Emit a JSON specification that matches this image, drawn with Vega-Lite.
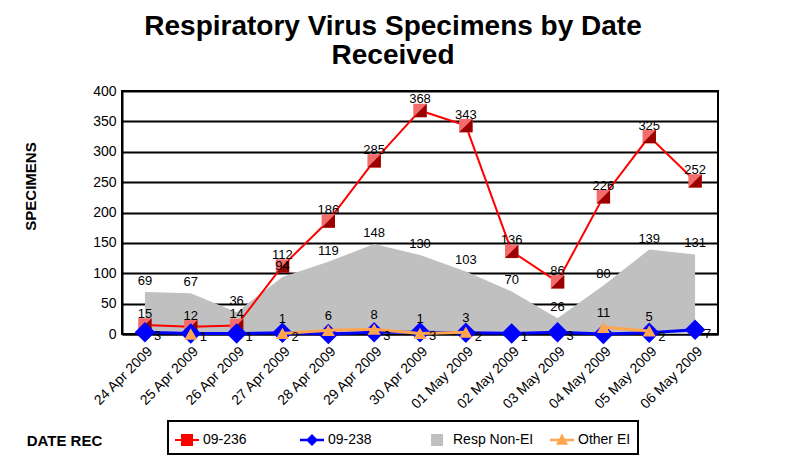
{
  "$schema": "https://vega.github.io/schema/vega-lite/v6.json",
  "width": 596,
  "height": 243,
  "autosize": "none",
  "padding": {"left": 122, "top": 91, "right": 73, "bottom": 136},
  "background": "white",
  "config": {
    "font": "Liberation Sans",
    "view": {"stroke": "#000", "strokeWidth": 2},
    "legend": {"strokeWidth": 2}
  },
  "title": {
    "text": ["Respiratory Virus Specimens by Date", "Received"],
    "font": "Liberation Sans",
    "fontSize": 28,
    "fontWeight": "bold",
    "color": "#000",
    "anchor": "middle",
    "dx": -27,
    "offset": 14,
    "lineHeight": 29
  },
  "data": {
    "values": [
      {"date": "24 Apr 2009", "series": "09-236", "value": 15},
      {"date": "25 Apr 2009", "series": "09-236", "value": 12},
      {"date": "26 Apr 2009", "series": "09-236", "value": 14},
      {"date": "27 Apr 2009", "series": "09-236", "value": 112},
      {"date": "28 Apr 2009", "series": "09-236", "value": 186},
      {"date": "29 Apr 2009", "series": "09-236", "value": 285},
      {"date": "30 Apr 2009", "series": "09-236", "value": 368},
      {"date": "01 May 2009", "series": "09-236", "value": 343},
      {"date": "02 May 2009", "series": "09-236", "value": 136},
      {"date": "03 May 2009", "series": "09-236", "value": 86},
      {"date": "04 May 2009", "series": "09-236", "value": 226},
      {"date": "05 May 2009", "series": "09-236", "value": 325},
      {"date": "06 May 2009", "series": "09-236", "value": 252},
      {"date": "24 Apr 2009", "series": "09-238", "value": 3},
      {"date": "25 Apr 2009", "series": "09-238", "value": 1},
      {"date": "26 Apr 2009", "series": "09-238", "value": 1},
      {"date": "27 Apr 2009", "series": "09-238", "value": 2},
      {"date": "28 Apr 2009", "series": "09-238", "value": 0},
      {"date": "29 Apr 2009", "series": "09-238", "value": 3},
      {"date": "30 Apr 2009", "series": "09-238", "value": 3},
      {"date": "01 May 2009", "series": "09-238", "value": 2},
      {"date": "02 May 2009", "series": "09-238", "value": 1},
      {"date": "03 May 2009", "series": "09-238", "value": 3},
      {"date": "04 May 2009", "series": "09-238", "value": 0},
      {"date": "05 May 2009", "series": "09-238", "value": 2},
      {"date": "06 May 2009", "series": "09-238", "value": 7},
      {"date": "24 Apr 2009", "series": "Resp Non-EI", "value": 69},
      {"date": "25 Apr 2009", "series": "Resp Non-EI", "value": 67},
      {"date": "26 Apr 2009", "series": "Resp Non-EI", "value": 36},
      {"date": "27 Apr 2009", "series": "Resp Non-EI", "value": 94},
      {"date": "28 Apr 2009", "series": "Resp Non-EI", "value": 119},
      {"date": "29 Apr 2009", "series": "Resp Non-EI", "value": 148},
      {"date": "30 Apr 2009", "series": "Resp Non-EI", "value": 130},
      {"date": "01 May 2009", "series": "Resp Non-EI", "value": 103},
      {"date": "02 May 2009", "series": "Resp Non-EI", "value": 70},
      {"date": "03 May 2009", "series": "Resp Non-EI", "value": 26},
      {"date": "04 May 2009", "series": "Resp Non-EI", "value": 80},
      {"date": "05 May 2009", "series": "Resp Non-EI", "value": 139},
      {"date": "06 May 2009", "series": "Resp Non-EI", "value": 131},
      {"date": "24 Apr 2009", "series": "Other EI", "value": null},
      {"date": "25 Apr 2009", "series": "Other EI", "value": 0},
      {"date": "26 Apr 2009", "series": "Other EI", "value": null},
      {"date": "27 Apr 2009", "series": "Other EI", "value": 1},
      {"date": "28 Apr 2009", "series": "Other EI", "value": 6},
      {"date": "29 Apr 2009", "series": "Other EI", "value": 8},
      {"date": "30 Apr 2009", "series": "Other EI", "value": 1},
      {"date": "01 May 2009", "series": "Other EI", "value": 3},
      {"date": "02 May 2009", "series": "Other EI", "value": null},
      {"date": "03 May 2009", "series": "Other EI", "value": null},
      {"date": "04 May 2009", "series": "Other EI", "value": 11},
      {"date": "05 May 2009", "series": "Other EI", "value": 5},
      {"date": "06 May 2009", "series": "Other EI", "value": null}
    ]
  },
  "encoding": {
    "x": {
      "field": "date",
      "type": "ordinal",
      "sort": null,
      "scale": {"type": "point", "padding": 0.5},
      "axis": {
        "title": "DATE REC",
        "titleFontSize": 15,
        "titleFontWeight": "bold",
        "titleColor": "#000",
        "titleX": -58,
        "titleY": 106,
        "titleAlign": "center",
        "titleBaseline": "middle",
        "labelAngle": -45,
        "labelFontSize": 14,
        "labelColor": "#000",
        "ticks": false,
        "labelPadding": 10,
        "domainColor": "#000",
        "domainWidth": 2,
        "grid": false
      }
    },
    "y": {
      "field": "value",
      "type": "quantitative",
      "scale": {"domain": [0, 400], "nice": false},
      "axis": {
        "values": [0, 50, 100, 150, 200, 250, 300, 350, 400],
        "title": "SPECIMENS",
        "titleFontSize": 15,
        "titleFontWeight": "bold",
        "titleColor": "#000",
        "titleX": -92,
        "titleY": 95,
        "titleAlign": "center",
        "titleBaseline": "middle",
        "labelFontSize": 14,
        "labelColor": "#000",
        "ticks": false,
        "labelPadding": 6,
        "grid": true,
        "gridColor": "#000",
        "gridWidth": 2,
        "gridOpacity": 1,
        "domainColor": "#000",
        "domainWidth": 2
      }
    }
  },
  "layer": [
    {
      "transform": [{"filter": "datum.series == 'Resp Non-EI'"}],
      "mark": {"type": "area", "color": "#c0c0c0", "opacity": 1}
    },
    {
      "transform": [{"filter": "datum.series == '09-236'"}],
      "mark": {"type": "line", "color": "#ff0000", "strokeWidth": 2}
    },
    {
      "transform": [{"filter": "datum.series == '09-236'"}],
      "mark": {"type": "point", "shape": "square", "filled": true, "size": 180, "color": "#f46c6c", "opacity": 1}
    },
    {
      "transform": [{"filter": "datum.series == '09-236'"}],
      "mark": {"type": "point", "shape": "M1,-1L1,1L-1,1Z", "filled": true, "size": 180, "color": "#9b0000", "opacity": 1}
    },
    {
      "transform": [{"filter": "datum.series == '09-238'"}],
      "mark": {"type": "line", "color": "#0000ff", "strokeWidth": 3}
    },
    {
      "transform": [{"filter": "datum.series == '09-238'"}],
      "mark": {"type": "point", "shape": "diamond", "filled": true, "size": 420, "color": "#0000ff", "opacity": 1}
    },
    {
      "transform": [{"filter": "datum.series == 'Other EI'"}],
      "mark": {"type": "line", "color": "#ffa54f", "strokeWidth": 3, "invalid": "break-paths-show-domains"}
    },
    {
      "transform": [{"filter": "datum.series == 'Other EI' && datum.value != null"}],
      "mark": {"type": "point", "shape": "triangle-up", "filled": true, "size": 170, "color": "#ffa54f", "opacity": 1}
    },
    {
      "transform": [{"filter": "datum.series == 'Resp Non-EI' || datum.series == '09-236'"}],
      "mark": {"type": "text", "fontSize": 13, "color": "#000", "dy": -11, "baseline": "middle"},
      "encoding": {"text": {"field": "value", "type": "quantitative"}}
    },
    {
      "transform": [{"filter": "datum.series == '09-238' && datum.value > 0"}],
      "mark": {"type": "text", "fontSize": 13, "color": "#000", "dx": 9, "dy": 4, "align": "left", "baseline": "middle"},
      "encoding": {"text": {"field": "value", "type": "quantitative"}}
    },
    {
      "transform": [{"filter": "datum.series == 'Other EI' && datum.value > 0"}],
      "mark": {"type": "text", "fontSize": 13, "color": "#000", "dy": -14, "baseline": "middle"},
      "encoding": {"text": {"field": "value", "type": "quantitative"}}
    },
    {
      "transform": [{"filter": "datum.value != null"}],
      "mark": {"type": "point", "filled": true, "opacity": 0},
      "encoding": {
        "color": {
          "field": "series",
          "type": "nominal",
          "scale": {
            "domain": ["09-236", "09-238", "Resp Non-EI", "Other EI"],
            "range": ["#ff0000", "#0000ff", "#c0c0c0", "#ffa54f"]
          },
          "legend": {
            "title": null,
            "orient": "none",
            "legendX": 46,
            "legendY": 330,
            "direction": "horizontal",
            "columns": 4,
            "gridAlign": "all",
            "columnPadding": 16,
            "padding": 7,
            "strokeColor": "#000",
            "fillColor": "#fff",
            "symbolSize": 576,
            "symbolOpacity": 1,
            "symbolStrokeWidth": 0,
            "labelFontSize": 14,
            "labelColor": "#000",
            "labelOffset": 4
          }
        },
        "shape": {
          "field": "series",
          "type": "nominal",
          "scale": {
            "domain": ["09-236", "09-238", "Resp Non-EI", "Other EI"],
            "range": [
              "M-1,-0.08H1V0.08H-1Z M-0.5,-0.5H0.5V0.5H-0.5Z",
              "M-1,-0.1H1V0.1H-1Z M0,-0.5L0.5,0L0,0.5L-0.5,0Z",
              "M-0.5,-0.5H0.5V0.5H-0.5Z",
              "M-1,-0.1H1V0.1H-1Z M0,-0.55L0.5,0.4L-0.5,0.4Z"
            ]
          },
          "legend": {
            "title": null,
            "orient": "none",
            "legendX": 46,
            "legendY": 330,
            "direction": "horizontal",
            "columns": 4,
            "gridAlign": "all",
            "columnPadding": 16,
            "padding": 7,
            "strokeColor": "#000",
            "fillColor": "#fff",
            "symbolSize": 576,
            "symbolOpacity": 1,
            "symbolStrokeWidth": 0,
            "labelFontSize": 14,
            "labelColor": "#000",
            "labelOffset": 4
          }
        }
      }
    }
  ]
}
